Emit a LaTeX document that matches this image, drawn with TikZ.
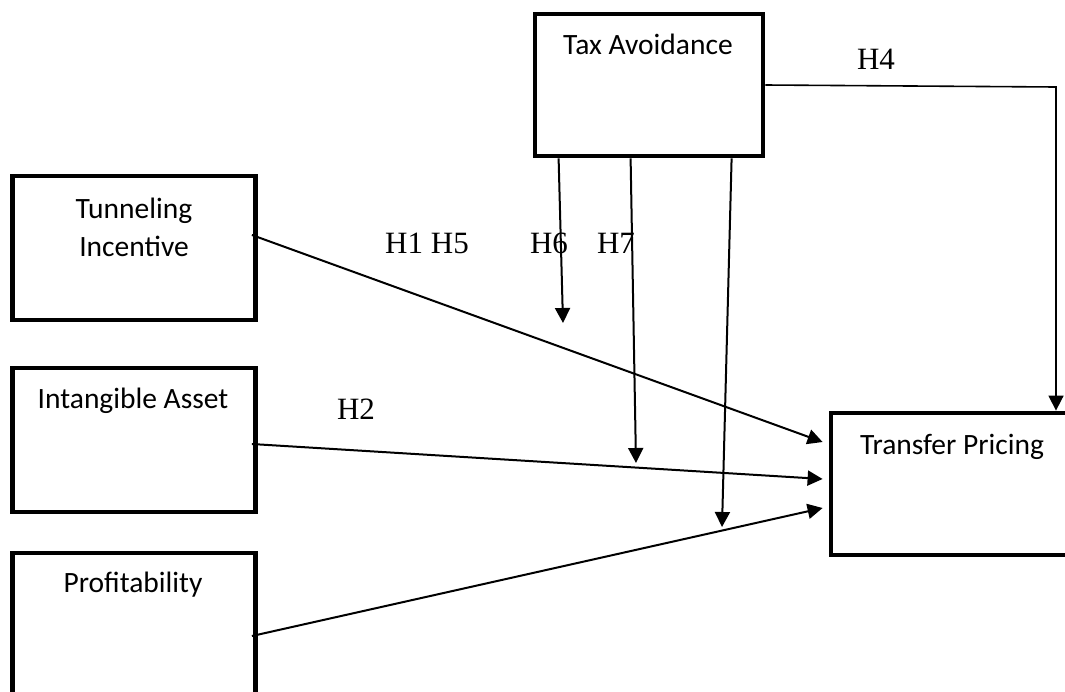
\documentclass[tikz,border=0pt]{standalone}
\usepackage{fontspec}
\setmainfont{Liberation Serif}
\newfontfamily\boxfont{Carlito}
\usetikzlibrary{arrows.meta,calc}
\tikzset{
  varbox/.style={draw=black, line width=4.8pt, rectangle, inner sep=0pt},
  boxtext/.style={anchor=base, font=\boxfont\fontsize{29.5}{35}\selectfont, inner sep=0pt},
  hyp/.style={anchor=base, font=\fontsize{31}{36}\selectfont, inner sep=0pt},
  conn/.style={line width=2pt, -{Triangle[length=15pt,width=15pt]}},
  thinconn/.style={line width=1.6pt, -{Triangle[length=15pt,width=15pt]}}
}
\begin{document}
\begin{tikzpicture}[x=1pt,y=-1pt]
\useasboundingbox[fill=white] (0,0) rectangle (1065,691);
% boxes
\node[varbox, minimum width=228pt, minimum height=142pt] (ta) at (649,85) {};
\node[varbox, minimum width=243pt, minimum height=144pt] (ti) at (134,248) {};
\node[varbox, minimum width=243pt, minimum height=144pt] (ia) at (134,440) {};
\node[varbox, minimum width=243pt, minimum height=144pt] (pr) at (134,625) {};
\node[varbox, minimum width=244pt, minimum height=142pt] (tp) at (953,484) {};
% box texts
\node[boxtext] (tat) at (648,54) {Tax Avoidance};
\node[boxtext] (tit1) at (134,218) {Tunneling};
\node[boxtext] (tit2) at (134,256) {Incentive};
\node[boxtext] (iat) at (133,408) {Intangible Asset};
\node[boxtext] (prt) at (133,592) {Profitability};
\node[boxtext] (tpt) at (952,454) {Transfer Pricing};
% hypothesis labels
\node[hyp] (h15) at (427,253) {H1 H5};
\node[hyp] (h6) at (549,253) {H6};
\node[hyp] (h7) at (616,253) {H7};
\node[hyp] (h2) at (356,419) {H2};
\node[hyp] (h4) at (876,69) {H4};
% free ends
\coordinate (e6) at (563,323);
\coordinate (e7) at (636,463);
\coordinate (e8) at (722,527);
\coordinate (h4c) at (1056,87);
% main effects
\draw[conn] ($(ti.east)+(-6,-13)$) -- ($(tp.west)+(-6,-42)$);
\draw[conn] ($(ia.east)+(-6,4)$) -- ($(tp.west)+(-6,-5)$);
\draw[conn] ($(pr.east)+(-6,11)$) -- ($(tp.west)+(-6,24)$);
% moderation
\draw[conn] ($(ta.south west)+(26,0)$) -- (e6);
\draw[conn] ($(ta.south west)+(98,0)$) -- (e7);
\draw[conn] ($(ta.south west)+(199,0)$) -- (e8);
\draw[thinconn] (ta.east) -- (h4c) -- (h4c |- tp.north);
\end{tikzpicture}
\end{document}
